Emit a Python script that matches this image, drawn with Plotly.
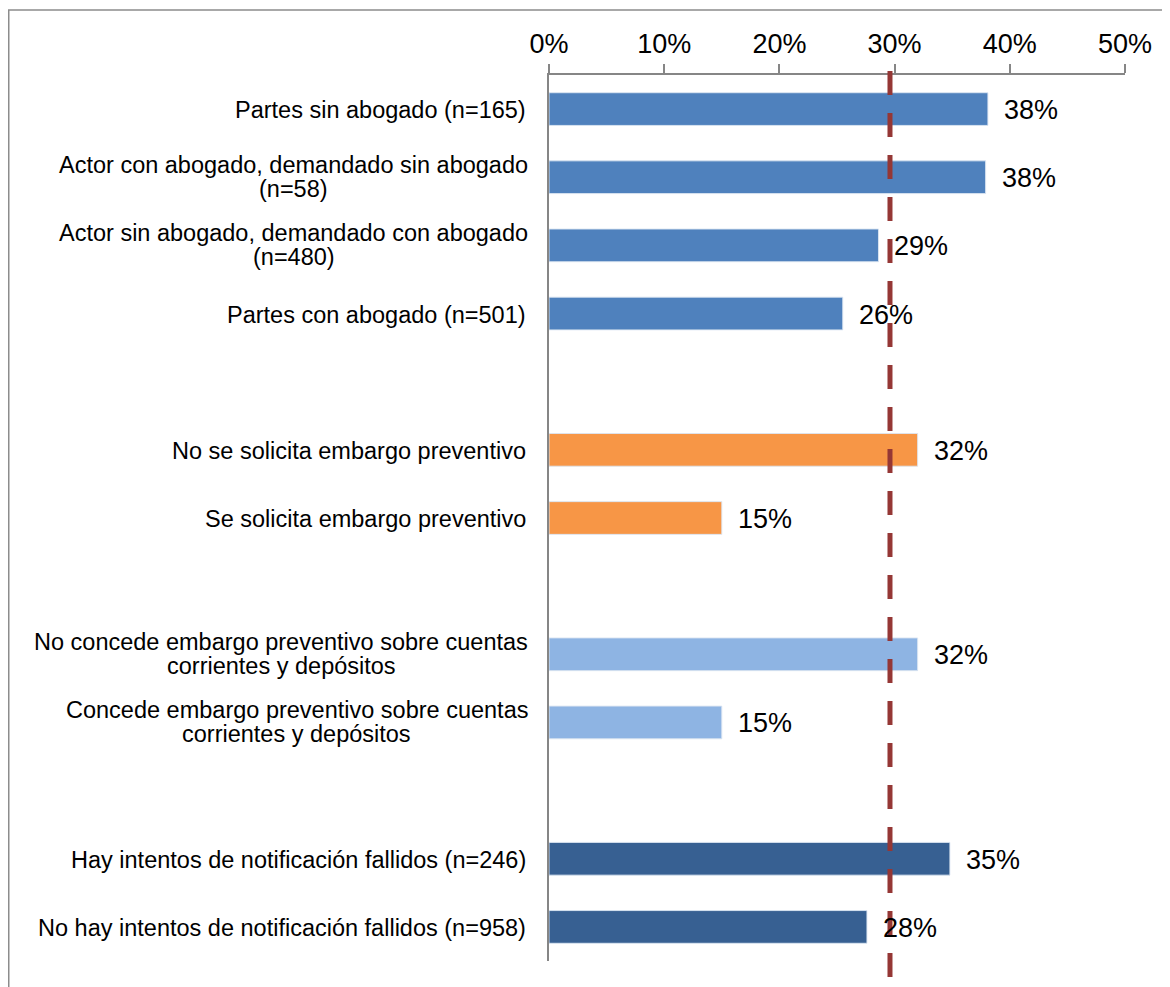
import plotly.graph_objects as go

# ---------------- data ----------------
categories = [
    "Partes sin abogado (n=165)",
    "Actor con abogado, demandado sin abogado (n=58)",
    "Actor sin abogado, demandado con abogado (n=480)",
    "Partes con abogado (n=501)",
    "No se solicita embargo preventivo",
    "Se solicita embargo preventivo",
    "No concede embargo preventivo sobre cuentas corrientes y depósitos",
    "Concede embargo preventivo sobre cuentas corrientes y depósitos",
    "Hay intentos de notificación fallidos (n=246)",
    "No hay intentos de notificación fallidos (n=958)",
]
label_lines = [
    ["Partes sin abogado (n=165)"],
    ["Actor con abogado, demandado sin abogado", "(n=58)"],
    ["Actor sin abogado, demandado con abogado", "(n=480)"],
    ["Partes con abogado (n=501)"],
    ["No se solicita embargo preventivo"],
    ["Se solicita embargo preventivo"],
    ["No concede embargo preventivo sobre cuentas", "corrientes y depósitos"],
    ["Concede embargo preventivo sobre cuentas", "corrientes y depósitos"],
    ["Hay intentos de notificación fallidos (n=246)"],
    ["No hay intentos de notificación fallidos (n=958)"],
]
groups = [0, 0, 0, 0, 1, 1, 2, 2, 3, 3]
values = [38.1, 37.9, 28.6, 25.5, 32.0, 15.0, 32.0, 15.0, 34.8, 27.6]
value_labels = ["38%", "38%", "29%", "26%", "32%", "15%", "32%", "15%", "35%", "28%"]
reference_value = 29.6
x_ticks = [0, 10, 20, 30, 40, 50]
x_tick_labels = ["0%", "10%", "20%", "30%", "40%", "50%"]

group_colors = ["#4F81BD", "#F79646", "#8EB4E3", "#376092"]

# ---------------- layout helpers ----------------
# the page body has a default 8px margin; the figure starts at (8, 8)
OFF = 8
W, H = 1170 - OFF, 987 - OFF
ML, MR, MT, MB = 549 - OFF, 45, 75 - OFF, 26
PW = W - ML - MR
PH = H - MT - MB

FONT = "Liberation Sans, Arial, sans-serif"
CAT_SIZE = 23.5
VAL_SIZE = 27
TICK_SIZE = 27

# Arial / Liberation Sans advance widths (per 1000 em)
AW = {" ": 278, "(": 333, ")": 333, ",": 278, "=": 584, ".": 278,
      "a": 556, "b": 556, "c": 500, "d": 556, "e": 556, "f": 278, "g": 556,
      "h": 556, "i": 222, "j": 222, "k": 500, "l": 222, "m": 833, "n": 556,
      "o": 556, "p": 556, "q": 556, "r": 333, "s": 500, "t": 278, "u": 556,
      "v": 500, "w": 722, "x": 500, "y": 500, "z": 500, "ó": 556, "á": 556,
      "A": 667, "C": 722, "H": 722, "N": 722, "P": 667, "S": 667}


def text_width(s, size):
    return sum(AW.get(ch, 556) for ch in s) * size / 1000.0


# category order with spacer rows between groups
cat_order = []
for g in sorted(set(groups)):
    if g > 0:
        cat_order.append(f"__gap{g}")
    cat_order += [c for c, gg in zip(categories, groups) if gg == g]

bar_colors = [group_colors[g] for g in groups]

fig = go.Figure()
fig.add_trace(go.Bar(
    x=values, y=categories, orientation="h",
    marker=dict(color=bar_colors, line=dict(color="rgba(220,230,242,0.9)", width=1)),
    width=0.48, hoverinfo="skip", showlegend=False,
))

annotations = []
# value labels
for c, v, t in zip(categories, values, value_labels):
    annotations.append(dict(
        x=v, y=c, xref="x", yref="y", text=t, showarrow=False,
        xanchor="left", yanchor="middle", xshift=14, yshift=-1,
        font=dict(family=FONT, size=VAL_SIZE, color="#000000"),
    ))

# category labels (right aligned block, lines centred within block)
GAP = 21
LINE_H = 24
for c, lines in zip(categories, label_lines):
    n = len(lines)
    if n == 1:
        annotations.append(dict(
            x=0, y=c, xref="paper", yref="y", text=lines[0], showarrow=False,
            xanchor="right", yanchor="middle", xshift=-GAP, yshift=-1,
            font=dict(family=FONT, size=CAT_SIZE, color="#000000"),
        ))
    else:
        maxw = max(text_width(s, CAT_SIZE) for s in lines)
        for i, s in enumerate(lines):
            annotations.append(dict(
                x=0, y=c, xref="paper", yref="y", text=s, showarrow=False,
                xanchor="center", yanchor="middle",
                xshift=-GAP - maxw / 2,
                yshift=((n - 1) / 2 - i) * LINE_H,
                font=dict(family=FONT, size=CAT_SIZE, color="#000000"),
            ))

shapes = [
    # outer chart frame (extends beyond the visible page)
    dict(type="rect", xref="paper", yref="paper",
         x0=(0.75 - ML) / PW, x1=(W + 20 - ML) / PW,
         y0=-(MB + 20) / PH, y1=1 + (MT - 2) / PH,
         line=dict(color="#8C8C8C", width=1.5), fillcolor="rgba(0,0,0,0)",
         layer="below"),
    # reference dashed line
    dict(type="line", xref="x", yref="paper",
         x0=reference_value, x1=reference_value,
         y0=1 + 4 / PH, y1=-(MB + 10) / PH,
         line=dict(color="#953735", width=5, dash="24px,18px"),
         layer="above"),
]

fig.update_layout(
    width=W, height=H,
    margin=dict(l=ML, r=MR, t=MT, b=MB, pad=0),
    paper_bgcolor="white", plot_bgcolor="white",
    bargap=0.52,
    xaxis=dict(
        side="top", range=[0, 50], tickmode="array",
        tickvals=x_ticks, ticktext=x_tick_labels,
        showgrid=False, zeroline=False,
        showline=True, linecolor="#868686", linewidth=1.5,
        ticks="outside", ticklen=9, tickwidth=1.5, tickcolor="#868686",
        tickfont=dict(family=FONT, size=TICK_SIZE, color="#000000"),
        fixedrange=True,
    ),
    yaxis=dict(
        type="category", categoryorder="array", categoryarray=cat_order,
        range=[len(cat_order) - 0.5, -0.5],
        showticklabels=False, showgrid=False, zeroline=False,
        showline=True, linecolor="#868686", linewidth=1.5, ticks="",
        fixedrange=True,
    ),
    annotations=annotations,
    shapes=shapes,
    font=dict(family=FONT, color="#000000"),
)

fig.write_html("out.html")
